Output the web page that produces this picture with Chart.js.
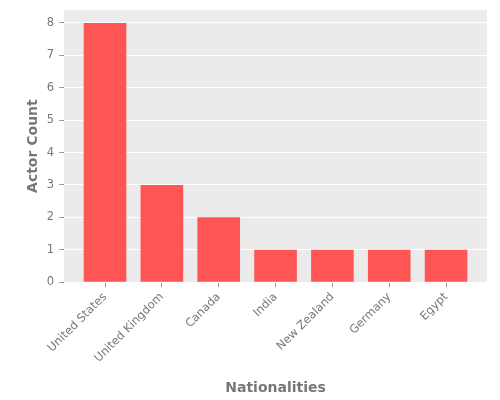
<!DOCTYPE html>
<html>
<head>
<meta charset="utf-8">
<script src="https://cdn.jsdelivr.net/npm/chart.js@4"></script>
<style>
  html, body { margin: 0; padding: 0; background: #fff; }
</style>
</head>
<body>
<canvas id="chart" width="500" height="400"></canvas>
<script>
// Données
const nationalities = ['United States', 'United Kingdom', 'Canada', 'India', 'New Zealand', 'Germany', 'Egypt'];
const actorCounts = [8, 3, 2, 1, 1, 1, 1];
const yTicks = [0, 1, 2, 3, 4, 5, 6, 7, 8];

// Fond gris de la zone de tracé (style ggplot)
const plotBackground = {
  id: 'plotBackground',
  beforeDraw(chart) {
    const { ctx, chartArea } = chart;
    ctx.save();
    ctx.fillStyle = '#EBEBEB';
    ctx.fillRect(chartArea.left, chartArea.top, chartArea.right - chartArea.left, chartArea.bottom - chartArea.top);
    ctx.restore();
  }
};

Chart.defaults.font.family = '"DejaVu Sans", sans-serif';
Chart.defaults.color = '#777777';

new Chart(document.getElementById('chart').getContext('2d'), {
  type: 'bar',
  data: {
    datasets: [
      {
        data: nationalities.map((_, i) => ({ x: i, y: actorCounts[i] })),
        backgroundColor: '#FF5555',
        borderWidth: 0,
        barPercentage: 0.75,
        categoryPercentage: 1,
      },
    ],
  },
  options: {
    responsive: false,
    animation: false,
    devicePixelRatio: 1,
    layout: { padding: { top: 10, right: 13, left: 25, bottom: 3 } },
    plugins: {
      legend: { display: false },
      tooltip: { enabled: false },
    },
    scales: {
      x: {
        type: 'linear',
        offset: false,
        min: -0.72,
        max: 6.72,
        afterBuildTicks: (axis) => { axis.ticks = nationalities.map((_, i) => ({ value: i })); },
        grid: { offset: false, drawOnChartArea: false, drawTicks: true, tickLength: 5, tickColor: '#999999' },
        border: { display: false },
        ticks: {
          autoSkip: false,
          minRotation: 45,
          maxRotation: 45,
          font: { size: 11.5 },
          color: '#777777',
          callback: (v) => nationalities[v],
        },
        title: {
          display: true,
          text: 'Nationalities',
          font: { size: 14, weight: 'bold' },
          color: '#777777',
          padding: { top: 12, bottom: 0 },
        },
      },
      y: {
        min: 0,
        max: 8.4,
        grid: { color: '#FFFFFF', lineWidth: 1, tickLength: 5, tickColor: '#999999' },
        border: { display: false },
        afterBuildTicks: (axis) => { axis.ticks = yTicks.map((v) => ({ value: v })); },
        afterFit: (axis) => { axis.paddingTop = 0; },
        ticks: {
          font: { size: 11.5 },
          color: '#777777',
          padding: 5,
        },
        title: {
          display: true,
          text: 'Actor Count',
          font: { size: 14, weight: 'bold' },
          color: '#777777',
          padding: { top: 0, bottom: 0 },
        },
      },
    },
  },
  plugins: [plotBackground],
});
</script>
</body>
</html>
